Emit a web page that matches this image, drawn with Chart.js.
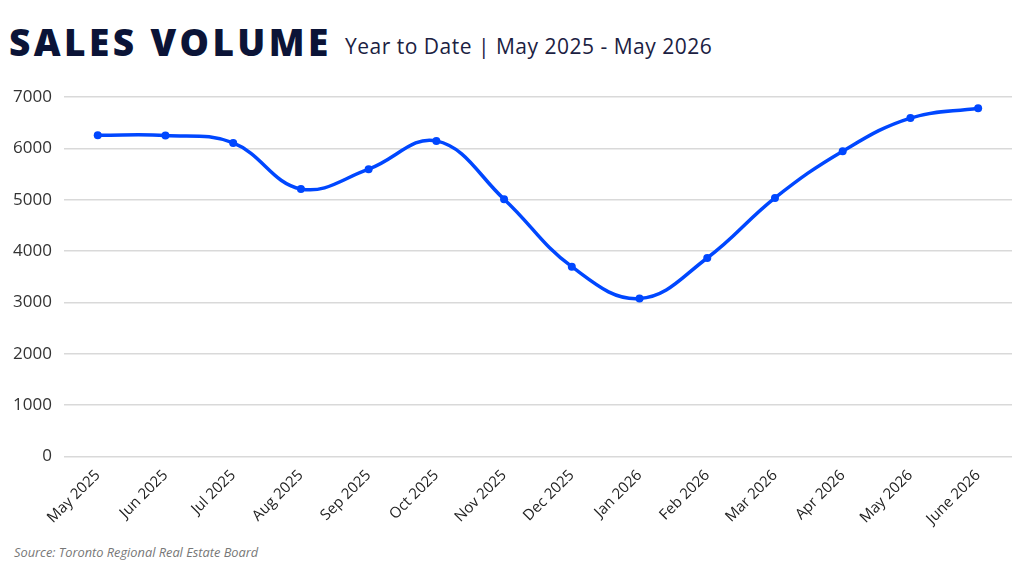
<!DOCTYPE html>
<html>
<head>
<meta charset="utf-8">
<script src="https://cdn.jsdelivr.net/npm/chart.js@4"></script>
<style>
  html, body { margin:0; padding:0; background:#fff; }
  body { width:1024px; height:576px; position:relative; overflow:hidden; font-family:"Open Sans", sans-serif; }
  #title { position:absolute; left:9px; top:16px; font-family:"Open Sans", sans-serif; font-weight:800; font-size:37px; color:#0b1437; letter-spacing:3.4px; white-space:nowrap; }
  #subtitle { position:absolute; left:345px; top:32px; font-family:"Open Sans", sans-serif; font-weight:400; font-size:21px; color:#1b2142; letter-spacing:0.5px; white-space:nowrap; }
  #source { position:absolute; left:14px; top:543px; font-family:"Open Sans", sans-serif; font-style:italic; font-size:12.8px; color:#777; white-space:nowrap; }
  #wrap { position:absolute; left:0; top:0; width:1024px; height:576px; }
</style>
</head>
<body>
<div id="title">SALES VOLUME</div>
<div id="subtitle">Year to Date | May 2025 - May 2026</div>
<div id="source">Source: Toronto Regional Real Estate Board</div>
<div id="wrap"><canvas id="c"></canvas></div>
<script>
const categories = ["May 2025","Jun 2025","Jul 2025","Aug 2025","Sep 2025","Oct 2025","Nov 2025","Dec 2025","Jan 2026","Feb 2026","Mar 2026","Apr 2026","May 2026","June 2026"];
const salesVolume = [6255, 6250, 6105, 5210, 5595, 6145, 5010, 3695, 3075, 3865, 5035, 5945, 6590, 6780];
const yTicks = [0, 1000, 2000, 3000, 4000, 5000, 6000, 7000];

new Chart(document.getElementById('c'), {
  type: 'line',
  data: {
    labels: categories,
    datasets: [{
      data: salesVolume,
      borderColor: '#0047ff',
      backgroundColor: '#0047ff',
      borderWidth: 3.5,
      pointRadius: 4,
      pointBackgroundColor: '#0047ff',
      pointBorderWidth: 0,
      tension: 0.4,
      fill: false
    }]
  },
  options: {
    responsive: true,
    maintainAspectRatio: false,
    animation: false,
    layout: { padding: { top: 97, left: 1, right: 12, bottom: 46 } },
    plugins: { legend: { display: false }, tooltip: { enabled: false } },
    scales: {
      x: {
        offset: true,
        grid: { display: false },
        border: { display: false },
        ticks: {
          color: '#222',
          font: { family: 'Open Sans', size: 15 },
          maxRotation: 45, minRotation: 45,
          padding: 2
        }
      },
      y: {
        min: 0, max: 7000,
        afterBuildTicks: (axis) => { axis.ticks = yTicks.map(v => ({ value: v })); },
        grid: { color: '#d9d9d9', lineWidth: 1.5, drawTicks: false },
        border: { display: false },
        ticks: {
          color: '#333',
          font: { family: 'Open Sans', size: 17 },
          padding: 12,
          callback: (v) => String(v)
        }
      }
    }
  }
});
</script>
</body>
</html>
